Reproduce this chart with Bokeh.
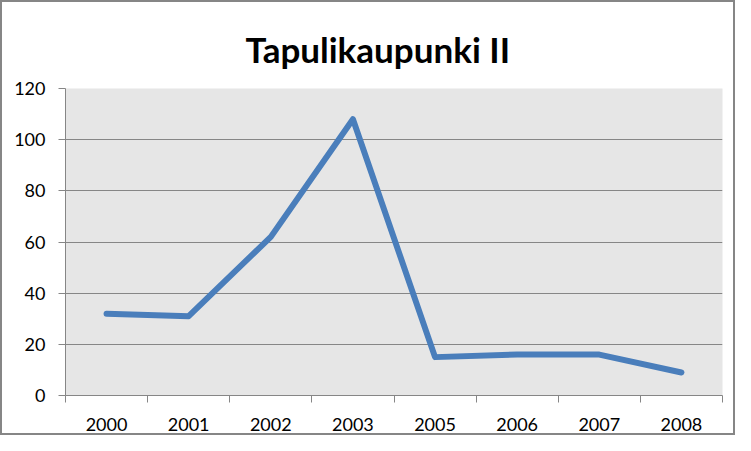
from bokeh.plotting import figure
from bokeh.models import FixedTicker, Range1d
from bokeh.embed import file_html
from bokeh.resources import INLINE

# data
years = ["2000", "2001", "2002", "2003", "2005", "2006", "2007", "2008"]
values = [32, 31, 62, 108, 15, 16, 16, 9]
y_ticks = [0, 20, 40, 60, 80, 100, 120]

# categories sit in the middle of each slot, ticks on the slot edges
xs = [i + 0.5 for i in range(len(years))]

p = figure(width=735, height=435, output_backend="svg", toolbar_location=None,
           title="Tapulikaupunki II",
           x_range=Range1d(0, len(years)), y_range=Range1d(0, 120),
           min_border_left=63, min_border_right=15,
           min_border_top=86, min_border_bottom=42)

p.styles = {"border": "2px solid #868686", "box-sizing": "border-box"}

# left aligned title, shifted so it sits in the middle of the whole chart
p.title.align = "left"
p.title.offset = 180
p.title.text_font = "Lato"
p.title.text_font_size = "35px"
p.title.text_font_style = "bold"
p.title.text_color = "black"
p.title.standoff = 37

p.background_fill_color = "#e6e6e6"
p.border_fill_color = "white"
p.outline_line_color = None

p.line(xs, values, line_color="#4a7ebb", line_width=6, line_join="round", line_cap="round")

p.xaxis.ticker = FixedTicker(ticks=xs, minor_ticks=list(range(len(years) + 1)))
p.xaxis.major_label_overrides = {x: y for x, y in zip(xs, years)}
p.xaxis.major_tick_out = 0
p.xaxis.major_tick_in = 0
p.xaxis.minor_tick_out = 7
p.xaxis.minor_tick_in = 0
p.xaxis.minor_tick_line_color = "#868686"
p.xaxis.major_label_standoff = 15

p.yaxis.ticker = FixedTicker(ticks=y_ticks)
p.yaxis.major_tick_out = 7
p.yaxis.major_tick_in = 0
p.yaxis.minor_tick_line_color = None
p.yaxis.major_label_standoff = 13

for ax in (p.xaxis, p.yaxis):
    ax.axis_line_color = "#868686"
    ax.major_tick_line_color = "#868686"
    ax.major_label_text_font = "Lato"
    ax.major_label_text_font_size = "18px"
    ax.major_label_text_color = "black"

p.xgrid.grid_line_color = None
p.ygrid.grid_line_color = "#868686"
p.ygrid.grid_line_width = 1

open("out.html", "w").write(file_html(p, INLINE))
